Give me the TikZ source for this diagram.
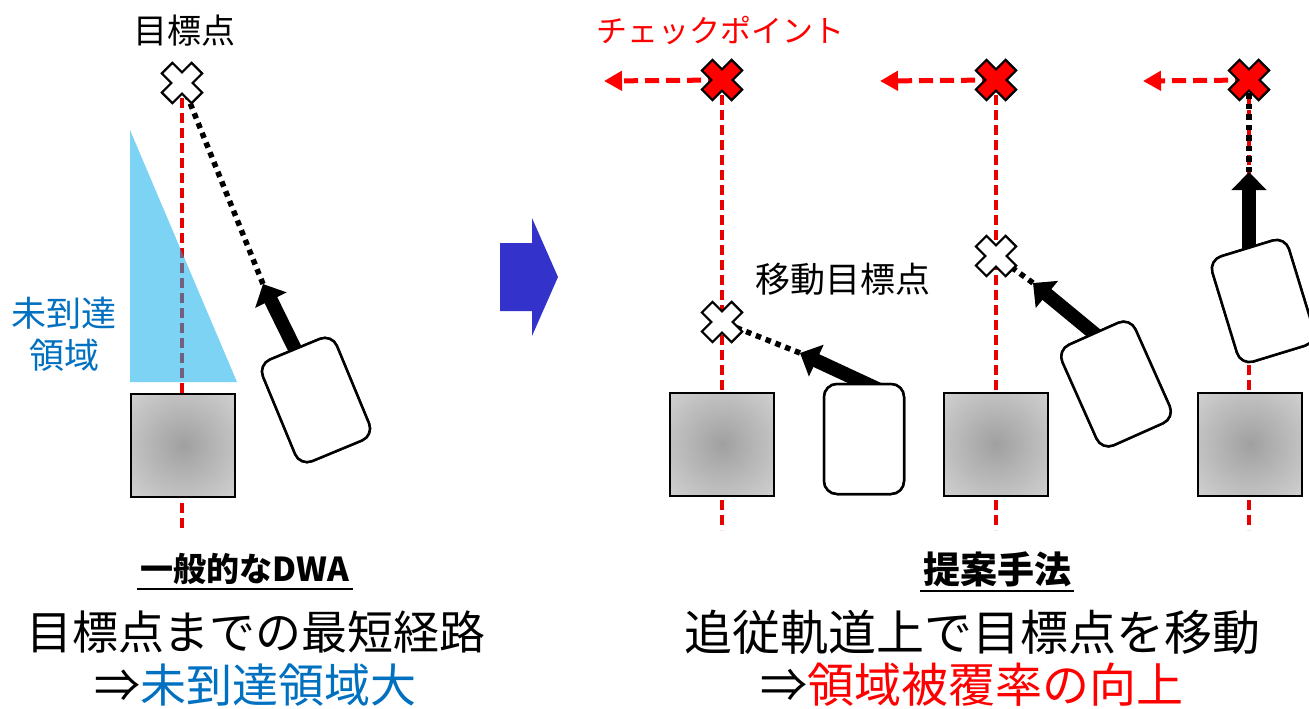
\documentclass[tikz,border=0pt]{standalone}
\usepackage{fontspec}
\setmainfont{Noto Sans CJK JP}
\usetikzlibrary{arrows.meta,calc}
\definecolor{rline}{RGB}{230,0,0}
\definecolor{tblue}{RGB}{0,112,192}
\definecolor{tri}{RGB}{20,175,235}
\definecolor{bigarrow}{RGB}{51,51,204}
\definecolor{gA}{RGB}{160,160,160}
\definecolor{gB}{RGB}{228,228,228}
\pgfdeclareradialshading{obst}{\pgfpoint{0bp}{0bp}}{color(0bp)=(gA); color(50bp)=(gB)}
\begin{document}
\begin{tikzpicture}[x=1pt,y=-1pt,
  trackline/.style={rline, line width=4pt, dash pattern=on 10pt off 5pt},
  dotpath/.style={black, line width=5.5pt, dash pattern=on 5.5pt off 5pt},
  motion/.style={black, line width=14pt, -{Triangle[width=34pt,length=18pt]}},
  cpshift/.style={red, line width=5pt, dash pattern=on 14pt off 7pt, -{Triangle[width=19pt,length=18pt]}},
  obstacle/.style={draw=black, line width=2pt, minimum width=104pt, minimum height=103pt, shading=obst, inner sep=0pt},
  robot/.style={draw=black, line width=2.5pt, fill=white, rounded corners=13pt, minimum width=80pt, minimum height=110pt, inner sep=0pt},
  xmark/.pic={\path[pic actions, draw=black, line width=2.2pt, line join=miter, rotate=45] (7.5,7.5)--(7.5,21)--(-7.5,21)--(-7.5,7.5)--(-21,7.5)--(-21,-7.5)--(-7.5,-7.5)--(-7.5,-21)--(7.5,-21)--(7.5,-7.5)--(21,-7.5)--(21,7.5)--cycle;},
  txt/.style={inner sep=0pt, text=black},
]
\useasboundingbox[fill=white] (0,0) rectangle (1309,709);

% ---------- left scene ----------
\coordinate (g0) at (182,83);
\coordinate (b0) at (182,530);
\coordinate (t0) at (263,284);
\draw[trackline] (g0) -- (b0);
\fill[tri, fill opacity=0.55] (130,130) -- (130,382) -- (237,382) -- cycle;
\node[obstacle] (o0) at (183,445) {};
\node[robot, rotate=22.5] (r0) at (316,400) {};
\draw[dotpath] (t0) -- (g0);
\draw[motion] ($(t0)!1.3!(r0.north)$) -- (t0);
\node[robot, rotate=22.5] at (r0.center) {};
\pic[fill=white] at (g0) {xmark};
\node[txt, font=\fontsize{34}{40}\selectfont] (lg0) at (184,31) {目標点};
\node[txt, text=tblue, align=center, font=\fontsize{35}{42}\selectfont] (ua) at (64,334) {未到達\\領域};

% ---------- middle arrow ----------
\fill[bigarrow] (500,243) -- (532,243) -- (532,218) -- (558,277) -- (532,336) -- (532,311) -- (500,311) -- cycle;

% ---------- scene 1 ----------
\coordinate (c1) at (722,80);
\coordinate (e1) at (604,81);
\coordinate (b1) at (722,530);
\coordinate (m1) at (722,322);
\coordinate (t1) at (800,353);
\draw[trackline] (c1) -- (b1);
\draw[cpshift] (c1) -- (e1);
\node[obstacle] (o1) at (722,444) {};
\draw[dotpath] (t1) -- (m1);
\node[robot] (r1) at (864,439) {};
\draw[motion] ($(t1)!1.3!(r1.north)$) -- (t1);
\node[robot] at (r1.center) {};
\pic[fill=white] at (m1) {xmark};
\pic[fill=red] at (c1) {xmark};
\node[txt, text=red, font=\fontsize{31}{36}\selectfont] (cpl) at (720,31) {チェックポイント};
\node[txt, font=\fontsize{35}{40}\selectfont] (mgl) at (843,279) {移動目標点};

% ---------- scene 2 ----------
\coordinate (c2) at (996,80);
\coordinate (e2) at (880,81);
\coordinate (b2) at (996,530);
\coordinate (m2) at (996,256);
\coordinate (t2) at (1033,283);
\draw[trackline] (c2) -- (b2);
\draw[cpshift] (c2) -- (e2);
\node[obstacle] (o2) at (996,444) {};
\draw[dotpath] (t2) -- (m2);
\node[robot, rotate=24] (r2) at (1116,384) {};
\draw[motion] ($(t2)!1.3!(r2.north)$) -- (t2);
\node[robot, rotate=24] at (r2.center) {};
\pic[fill=white] at (m2) {xmark};
\pic[fill=red] at (c2) {xmark};

% ---------- scene 3 ----------
\coordinate (c3) at (1249,80);
\coordinate (e3) at (1143,81);
\coordinate (b3) at (1249,530);
\coordinate (t3) at (1249,172);
\coordinate (s3) at (1249,265);
\draw[trackline] (c3) -- (b3);
\draw[cpshift] (c3) -- (e3);
\node[obstacle] (o3) at (1250,444) {};
\node[robot, rotate=17] (r3) at (1263,301) {};
\draw[motion] (s3) -- (t3);
\node[robot, rotate=17] at (r3.center) {};
\draw[dotpath] (t3) -- (c3);
\pic[fill=red] at (c3) {xmark};

% ---------- bottom texts ----------
\node[txt, font=\fontsize{33}{38}\selectfont\bfseries] (h0) at (245,569) {一般的なDWA};
\draw[line width=1.5pt] ($(h0.south west)+(-3,4)$) -- ($(h0.south east)+(3,4)$);
\node[txt, font=\fontsize{46}{50}\selectfont] (l0a) at (256,632) {目標点までの最短経路};
\node[txt, font=\fontsize{46}{50}\selectfont] (l0b) at (255,685) {⇒\textcolor{tblue}{未到達領域大}};

\node[txt, font=\fontsize{37}{42}\selectfont\bfseries] (h1) at (997,569) {提案手法};
\draw[line width=1.5pt] ($(h1.south west)+(-3,4)$) -- ($(h1.south east)+(3,4)$);
\node[txt, font=\fontsize{48}{52}\selectfont] (l1a) at (972,632) {追従軌道上で目標点を移動};
\node[txt, font=\fontsize{47}{50}\selectfont] (l1b) at (972,685) {⇒\textcolor{red}{領域被覆率の向上}};
\end{tikzpicture}
\end{document}
